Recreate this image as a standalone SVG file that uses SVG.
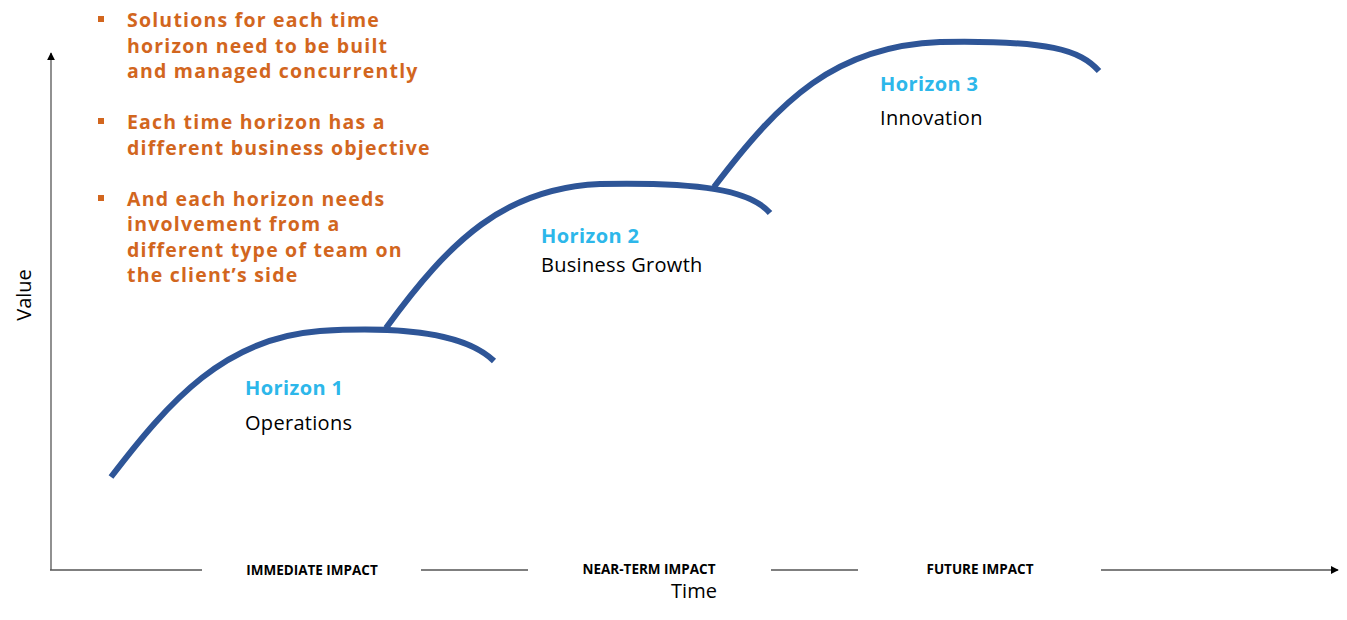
<svg xmlns="http://www.w3.org/2000/svg" width="1347" height="620" viewBox="0 0 1347 620">
<style>
.bul{font-family:"Open Sans",sans-serif;font-weight:700;font-size:19.5px;fill:#D2661E;letter-spacing:1.2px}
.hz{font-family:"Open Sans",sans-serif;font-weight:700;font-size:20px;fill:#2DB7EA;letter-spacing:0.4px}
.sub{font-family:"Open Sans",sans-serif;font-size:20px;fill:#000;letter-spacing:0.3px}
.ax{font-family:"Open Sans",sans-serif;font-weight:700;font-size:13.5px;fill:#000}
.axl{font-family:"Open Sans",sans-serif;font-size:20px;fill:#000}
.curve{fill:none;stroke:#2E5597;stroke-width:6}
.line{stroke:#555;stroke-width:1.3;fill:none}
</style>
<defs>
<marker id="arr" viewBox="0 0 10 10" refX="9" refY="5" markerWidth="8" markerHeight="8" markerUnits="userSpaceOnUse" orient="auto"><path d="M0,0 L10,5 L0,10 z" fill="#000"/></marker>
</defs>
<rect width="1347" height="620" fill="#fff"/>
<g id="axes">
<line class="line" x1="51" y1="570" x2="51" y2="53" marker-end="url(#arr)"/>
<line class="line" x1="50" y1="570" x2="202" y2="570"/>
<line class="line" x1="421" y1="570" x2="528" y2="570"/>
<line class="line" x1="771" y1="570" x2="858" y2="570"/>
<line class="line" x1="1101" y1="570" x2="1338" y2="570" marker-end="url(#arr)"/>
<text class="ax" x="312" y="575" text-anchor="middle">IMMEDIATE IMPACT</text>
<text class="ax" x="649" y="574" text-anchor="middle">NEAR-TERM IMPACT</text>
<text class="ax" x="980" y="574" text-anchor="middle">FUTURE IMPACT</text>
<text class="axl" x="694" y="598" text-anchor="middle">Time</text>
<text class="axl" x="31" y="295" text-anchor="middle" transform="rotate(-90 31 295)">Value</text>
</g>
<g id="connectors">
<path class="curve" d="M111,477 C170,400 225,338 320,331 C420,325 470,338 494,361"/>
<path class="curve" d="M386,328 C450,240 505,188 600,184 C700,182 750,190 770,213"/>
<path class="curve" d="M714,187 C780,100 835,46 940,42 C1050,40 1080,50 1099,71"/>
</g>
<g id="bullets">
<rect x="98" y="16" width="6" height="6" fill="#D2661E"/>
<text class="bul" x="127" y="27">Solutions for each time</text>
<text class="bul" x="127" y="53">horizon need to be built</text>
<text class="bul" x="127" y="78">and managed concurrently</text>
<rect x="98" y="118" width="6" height="6" fill="#D2661E"/>
<text class="bul" x="127" y="129">Each time horizon has a</text>
<text class="bul" x="127" y="155">different business objective</text>
<rect x="98" y="195" width="6" height="6" fill="#D2661E"/>
<text class="bul" x="127" y="206">And each horizon needs</text>
<text class="bul" x="127" y="231">involvement from a</text>
<text class="bul" x="127" y="257">different type of team on</text>
<text class="bul" x="127" y="282">the client’s side</text>
</g>
<g id="h1">
<text class="hz" x="245" y="395">Horizon 1</text>
<text class="sub" x="245" y="430">Operations</text>
</g>
<g id="h2">
<text class="hz" x="541" y="243">Horizon 2</text>
<text class="sub" x="541" y="272">Business Growth</text>
</g>
<g id="h3">
<text class="hz" x="880" y="91">Horizon 3</text>
<text class="sub" x="880" y="125">Innovation</text>
</g>
</svg>
